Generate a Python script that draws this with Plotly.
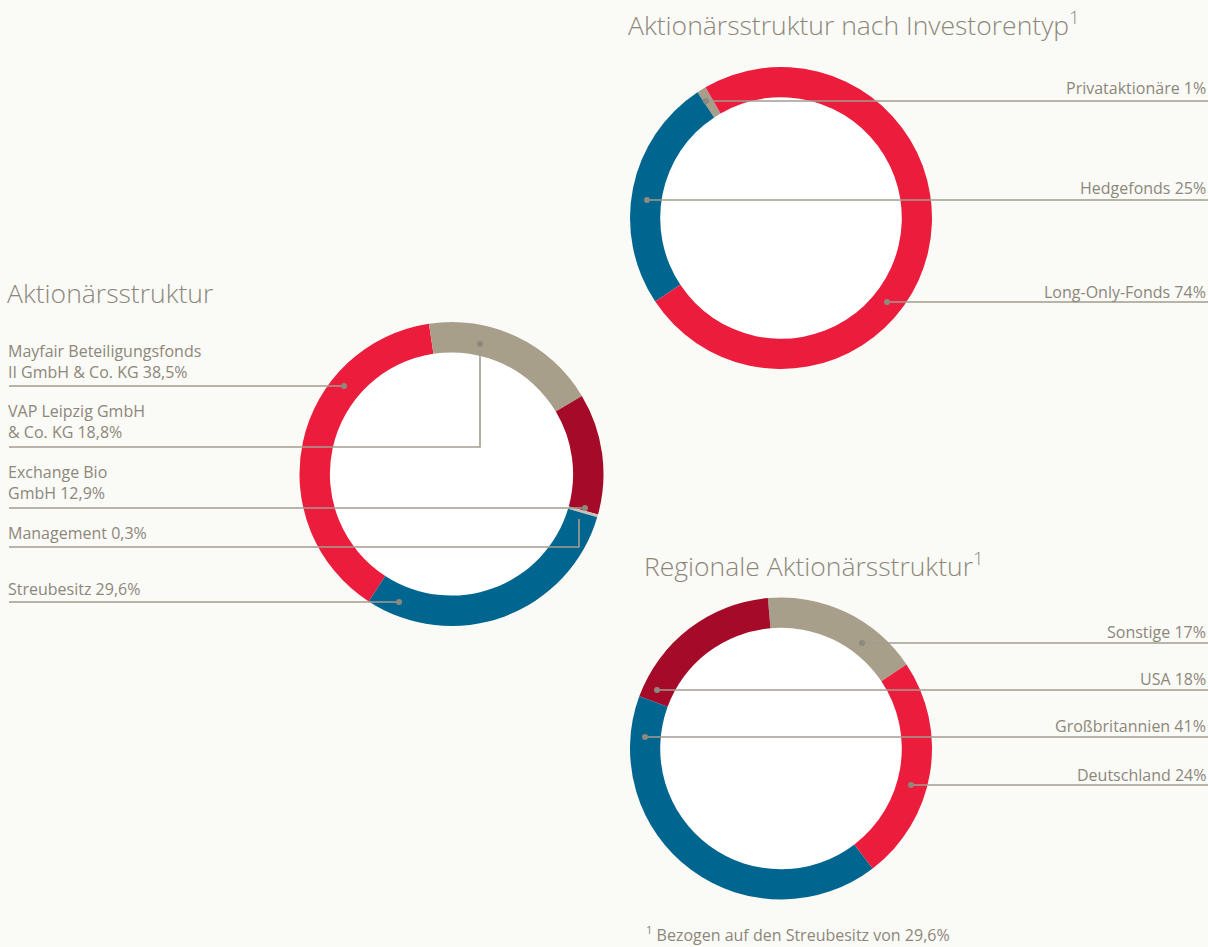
import plotly.graph_objects as go

# ---------------- data ----------------
share_labels = ["Mayfair Beteiligungsfonds<br>II GmbH & Co. KG 38,5%",
                "VAP Leipzig GmbH<br>& Co. KG 18,8%",
                "Exchange Bio<br>GmbH 12,9%",
                "Management 0,3%",
                "Streubesitz 29,6%"]
share_names = ["Mayfair Beteiligungsfonds II GmbH & Co. KG", "VAP Leipzig GmbH & Co. KG",
               "Exchange Bio GmbH", "Management", "Streubesitz"]
share_values = [38.5, 18.8, 12.9, 0.3, 29.6]

investor_names = ["Privataktionäre", "Hedgefonds", "Long-Only-Fonds"]
investor_values = [1, 25, 74]

region_names = ["Sonstige", "USA", "Großbritannien", "Deutschland"]
region_values = [17, 18, 41, 24]

# ---------------- style ----------------
W, H = 1208, 947
BG = "#fafaf7"
RED = "#ec1c3d"
BLUE = "#00668f"
TAUPE = "#a89f8b"
DARK = "#a50a28"
MGMT = "#c9c3b4"
TXT = "#8d877a"
LINE = "#a39d90"
DOT = "#8e897d"
FONT = "Open Sans"

share_colors = [RED, TAUPE, DARK, MGMT, BLUE]
investor_colors = [TAUPE, BLUE, RED]
region_colors = [TAUPE, DARK, BLUE, RED]


def px(x):
    return x / W


def py(y):
    return 1 - y / H


def domain(cx, cy, r):
    return dict(x=[px(cx - r), px(cx + r)], y=[py(cy + r), py(cy - r)])


HOLE = 0.8
pies = [
    # (values, names, colors, center, radius, rotation, direction)
    (share_values, share_names, share_colors, (451.5, 474), 152, 213, "clockwise"),
    (investor_values, investor_names, investor_colors, (781, 218), 151, -33.6, "counterclockwise"),
    (region_values, region_names, region_colors, (781, 748.5), 151, -5, "counterclockwise"),
]

fig = go.Figure()
shapes = []
for vals, names, cols, (cx, cy), r, rot, direc in pies:
    fig.add_trace(go.Pie(
        values=vals, labels=names, sort=False, direction=direc, rotation=rot,
        hole=HOLE, marker=dict(colors=cols, line=dict(width=0)),
        textinfo="none", hoverinfo="label+value", showlegend=False,
        domain=domain(cx, cy, r),
    ))
    ri = r * HOLE + 1
    shapes.append(dict(type="circle", xref="paper", yref="paper", layer="below",
                       x0=px(cx - ri), x1=px(cx + ri), y0=py(cy + ri), y1=py(cy - ri),
                       fillcolor="#ffffff", line=dict(width=0)))

annotations = []


def label(text, x, y, anchor):
    annotations.append(dict(text=text, x=px(x), y=py(y), xref="paper", yref="paper",
                            xanchor=anchor, yanchor="middle", showarrow=False, align=anchor,
                            font=dict(family=FONT, size=16, color=TXT)))


def leader(points, dot=None):
    path = "M " + " L ".join(f"{px(x)},{py(y)}" for x, y in points)
    shapes.append(dict(type="path", xref="paper", yref="paper", path=path, layer="above",
                       line=dict(color=LINE, width=1.6)))
    if dot is not None:
        dx, dy = dot
        rr = 3
        shapes.append(dict(type="circle", xref="paper", yref="paper", layer="above",
                           x0=px(dx - rr), x1=px(dx + rr), y0=py(dy + rr), y1=py(dy - rr),
                           fillcolor=DOT, line=dict(width=0)))


# left chart labels
left_text_y = [361, 421.5, 482, 533, 589]
for t, ty in zip(share_labels, left_text_y):
    label(t, 6, ty, "left")
leader([(9, 386), (344, 386)], (344, 386))
leader([(9, 447), (480, 447), (480, 344)], (480, 344))
leader([(9, 508), (585, 508)], (585, 508))
leader([(9, 547), (579, 547), (579, 519)])
leader([(9, 602), (399, 602)], (399, 602))

# top-right labels
inv_text_y = [88, 188, 292]
for n, v, ty in zip(investor_names, investor_values, inv_text_y):
    label(f"{n} {v}%", 1208, ty, "right")
leader([(706, 101), (1208, 101)], (706, 101))
leader([(647, 200), (1208, 200)], (647, 200))
leader([(887, 302), (1208, 302)], (887, 302))

# bottom-right labels
reg_text_y = [632, 679, 726, 775]
for n, v, ty in zip(region_names, region_values, reg_text_y):
    label(f"{n} {v}%", 1208, ty, "right")
leader([(862, 643), (1208, 643)], (862, 643))
leader([(657, 690), (1208, 690)], (657, 690))
leader([(645, 737), (1208, 737)], (645, 737))
leader([(911, 785), (1208, 785)], (911, 785))

# titles
def title(text, x, y):
    annotations.append(dict(text=text, x=px(x), y=py(y), xref="paper", yref="paper",
                            xanchor="left", yanchor="middle", showarrow=False,
                            font=dict(family=FONT, size=26.5, color=TXT, weight=300)))


title("Aktionärsstruktur", 5, 293)
title("Aktionärsstruktur nach Investorentyp<sup>1</sup>", 626, 24)
title("Regionale Aktionärsstruktur<sup>1</sup>", 642, 564)

annotations.append(dict(text="<sup>1</sup> Bezogen auf den Streubesitz von 29,6%",
                        x=px(644), y=py(934), xref="paper", yref="paper",
                        xanchor="left", yanchor="middle", showarrow=False,
                        font=dict(family=FONT, size=16, color=TXT)))

fig.update_layout(
    width=W, height=H, margin=dict(l=0, r=0, t=0, b=0),
    paper_bgcolor=BG, plot_bgcolor=BG,
    shapes=shapes, annotations=annotations,
)

fig.write_html("out.html", config={"displayModeBar": False},
               post_script="document.body.style.margin='0';")
